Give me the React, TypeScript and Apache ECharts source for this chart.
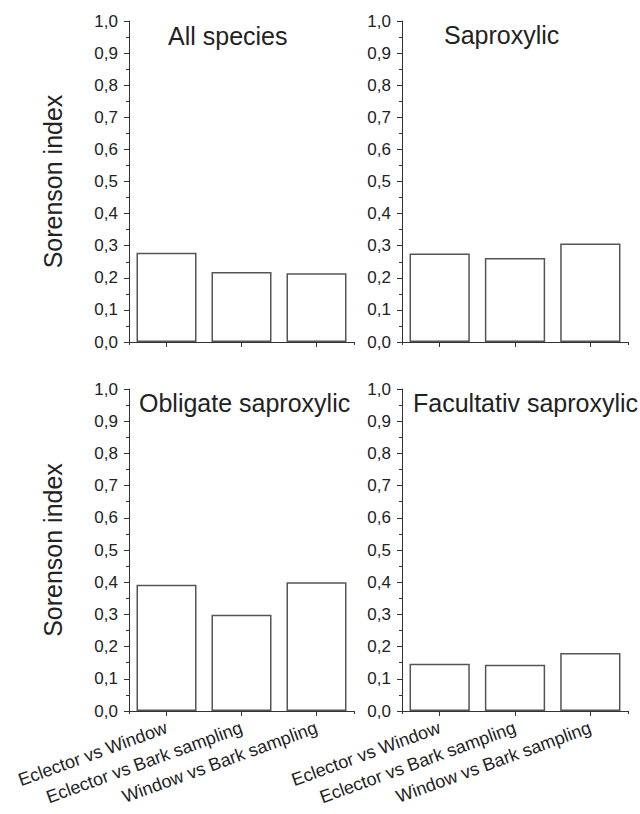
import React, { useEffect, useRef } from "react";
import * as echarts from "echarts";

const categories = ["Eclector vs Window", "Eclector vs Bark sampling", "Window vs Bark sampling"];
const allSpecies = [0.278, 0.218, 0.214];
const saproxylic = [0.276, 0.262, 0.307];
const obligate = [0.392, 0.299, 0.4];
const facultativ = [0.147, 0.144, 0.18];
const panelTitles = ["All species", "Saproxylic", "Obligate saproxylic", "Facultativ saproxylic"];
const yAxisTitle = "Sorenson index";

const FONT = "'Liberation Sans', Arial, Helvetica, sans-serif";
const TEXT = "#222";
const AXIS = "#333";

export default function App() {
  const ref = useRef<HTMLDivElement>(null);
  useEffect(() => {
    if (!ref.current) return;
    const chart = echarts.init(ref.current, undefined, { renderer: "svg" });
    const grids = [
      { left: 129, top: 21, width: 225, height: 321 },
      { left: 402, top: 21, width: 226, height: 321 },
      { left: 129, top: 389, width: 225, height: 322 },
      { left: 402, top: 389, width: 226, height: 322 },
    ];
    const seriesData = [allSpecies, saproxylic, obligate, facultativ];
    const xAxis: any[] = [];
    const yAxis: any[] = [];
    const series: any[] = [];
    grids.forEach((g, i) => {
      const bottomRow = i >= 2;
      xAxis.push({
        type: "category",
        gridIndex: i,
        position: "bottom",
        data: categories,
        axisLine: { show: true, lineStyle: { color: AXIS, width: 1 } },
        axisTick: { show: true, alignWithLabel: true, length: 5, lineStyle: { color: AXIS } },
        axisLabel: {
          show: bottomRow,
          rotate: 20,
          margin: 16,
          fontSize: 18,
          fontFamily: FONT,
          color: TEXT,
          interval: 0,
        },
        splitLine: { show: false },
      });
      xAxis.push({
        type: "category",
        gridIndex: i,
        position: "bottom",
        data: categories,
        axisLine: { show: false },
        axisTick: { show: true, length: 3, lineStyle: { color: AXIS } },
        axisLabel: { show: false },
        splitLine: { show: false },
      });
      yAxis.push({
        type: "value",
        gridIndex: i,
        min: 0,
        max: 1,
        interval: 0.1,
        name: i % 2 === 0 ? yAxisTitle : "",
        nameLocation: "middle",
        nameRotate: 90,
        nameGap: 64,
        nameTextStyle: { fontSize: 25, fontFamily: FONT, color: TEXT },
        axisLine: { show: true, lineStyle: { color: AXIS, width: 1 } },
        axisTick: { show: true, length: 5, lineStyle: { color: AXIS } },
        minorTick: { show: true, splitNumber: 2, length: 3, lineStyle: { color: AXIS } },
        axisLabel: {
          fontSize: 17,
          fontFamily: FONT,
          color: TEXT,
          margin: 11,
          formatter: (v: number) => v.toFixed(1).replace(".", ","),
        },
        splitLine: { show: false },
      });
      series.push({
        type: "bar",
        xAxisIndex: i * 2,
        yAxisIndex: i,
        data: seriesData[i],
        barWidth: "80%",
        itemStyle: { color: "#ffffff", borderColor: "#555", borderWidth: 1.5 },
        silent: true,
      });
    });
    const titlePos = [
      { x: 168, y: 36 },
      { x: 444, y: 35 },
      { x: 139, y: 403 },
      { x: 413, y: 403 },
    ];
    const graphic = panelTitles.map((t, i) => ({
      type: "text",
      x: titlePos[i].x,
      y: titlePos[i].y,
      style: {
        text: t,
        fontSize: 25,
        fontFamily: FONT,
        fill: TEXT,
        textAlign: "left",
        textVerticalAlign: "middle",
      },
    }));
    chart.setOption({
      animation: false,
      backgroundColor: "#ffffff",
      grid: grids.map((g) => ({ ...g, containLabel: false })),
      xAxis,
      yAxis,
      series,
      graphic,
    });
    return () => chart.dispose();
  }, []);
  return (
    <div
      ref={ref}
      style={{ position: "fixed", left: 0, top: 0, width: 640, height: 814 }}
    />
  );
}
